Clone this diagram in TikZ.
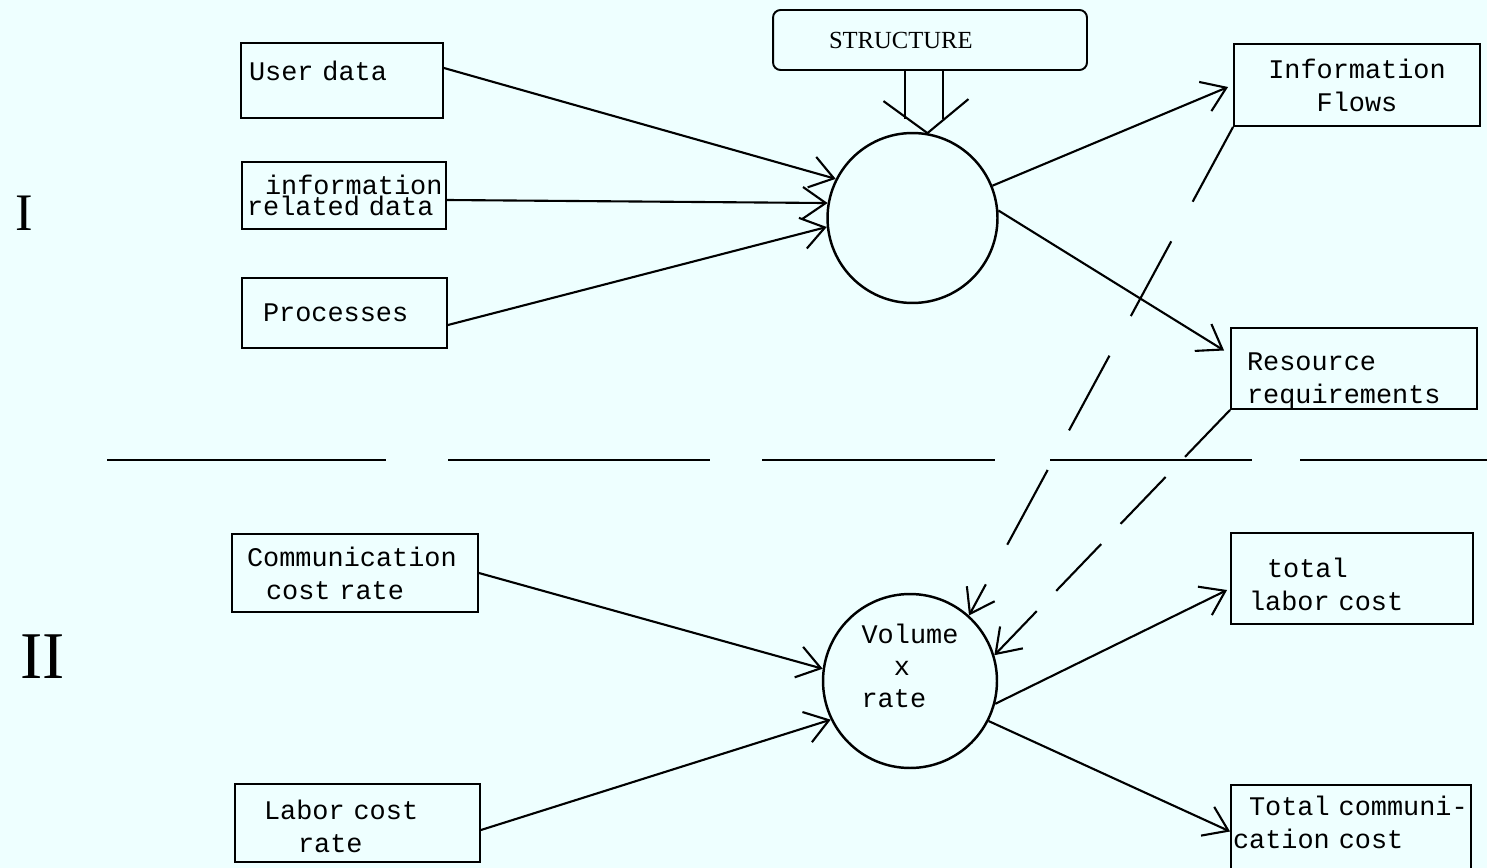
\documentclass[tikz,border=0pt]{standalone}
\usepackage{fontspec}
\setmonofont{Liberation Mono}
\newfontfamily\serifF{Liberation Serif}
\usetikzlibrary{arrows.meta,calc}
\definecolor{bg}{RGB}{238,255,255}
% shift a block of lines up (positive) or down (negative) without changing its reported size
\newcommand{\liftbox}[2]{\raisebox{#1}[\height][\depth]{\begin{tabular}{@{}l@{}}#2\end{tabular}}}
\begin{document}
\begin{tikzpicture}[x=0.02cm,y=-0.02cm,
  box/.style={draw, line width=1.1pt, rectangle, inner ysep=0pt, align=left,
    font=\ttfamily\fontsize{15.3}{18.7}\selectfont},
  proc/.style={draw, circle, line width=1.4pt, inner sep=0pt,
    font=\ttfamily\fontsize{15.3}{18.4}\selectfont},
  arr/.style={line width=1.2pt, -{Straight Barb[length=13pt,width=18pt]}},
  dashA/.style={line width=1.2pt, dash pattern=on 1.7cm off 0.9cm, -{Straight Barb[length=13pt,width=18pt]}},
  dashB/.style={line width=1.2pt, dash pattern=on 1.3cm off 0.56cm, -{Straight Barb[length=13pt,width=18pt]}},
  divider/.style={line width=1.2pt},
  roman/.style={font=\serifF\fontsize{30}{30}\selectfont, inner sep=0pt}
]
\useasboundingbox (0,0) rectangle (1487,868);
\fill[bg] (0,0) rectangle (1487,868);

% structure box
\node[draw, line width=1.1pt, rounded corners=0.15cm, minimum width=6.28cm, minimum height=1.2cm,
  text width=4.04cm, inner xsep=1.12cm, inner ysep=0pt, align=left,
  font=\serifF\fontsize{14}{16}\selectfont] (st) at (930,40) {STRUCTURE};

% circles
\node[proc, minimum size=3.4cm] (c1) at (912.5,218) {};
\node[proc, minimum size=3.48cm] (c2) at (910,681) {\liftbox{0.24cm}{Volume\\\phantom{Vo}x\\rate}};

% left boxes, part I
\node[box, minimum height=1.5cm, text width=3.72cm, inner xsep=0.16cm] (ud) at (342,80.5) {\liftbox{0.14cm}{User data}};
\node[box, minimum height=1.34cm, text width=3.88cm, inner xsep=0.1cm,
  font=\ttfamily\fontsize{15.3}{9.6}\selectfont] (ir) at (344,195.5)
  {\lineskiplimit=-100pt\lineskip=0pt\hspace*{0.36cm}information\\related data};
\node[box, minimum height=1.4cm, text width=3.26cm, inner xsep=0.42cm] (pr) at (344.5,313) {Processes};

% right boxes, part I
\node[box, minimum height=1.64cm, text width=4.52cm, inner xsep=0.2cm, align=center] (if) at (1357,85) {Information\\Flows};
\node[box, minimum height=1.62cm, text width=4.28cm, inner xsep=0.32cm] (rr) at (1354,368.5) {\liftbox{-0.24cm}{Resource\\requirements}};

% left boxes, part II
\node[box, minimum height=1.56cm, text width=4.32cm, inner xsep=0.3cm] (cc) at (355,573) {Communication\\\hspace*{0.38cm}cost rate};
\node[box, minimum height=1.56cm, text width=3.74cm, inner xsep=0.58cm] (lc) at (357.5,823) {\liftbox{-0.12cm}{Labor cost\\\hspace*{0.68cm}rate}};

% right boxes, part II
\node[box, minimum height=1.82cm, text width=4.12cm, inner xsep=0.36cm] (tl) at (1352,578.5) {\liftbox{-0.18cm}{\hspace*{0.36cm}total\\labor cost}};
\node[box, minimum height=1.86cm, text width=4.72cm, inner xsep=0.04cm] (tc) at (1351,831.5) {\liftbox{0.12cm}{\hspace*{0.32cm}Total communi-\\cation cost}};

% roman numerals
\node[roman] (r1) at (24,213) {I};
\node[roman, font=\serifF\fontsize{38}{38}\selectfont] (r2) at (43,657) {II};

% structure arrow
\draw[line width=1.2pt] ($(st.south)+(-25,0)$) -- ($(st.south)+(-25,48)$);
\draw[line width=1.2pt] ($(st.south)+(13,0)$) -- ($(st.south)+(13,48)$);
\draw[line width=1.2pt] ($(c1.80)+(-44,-32)$) -- (c1.80) -- ($(c1.80)+(41,-34)$);

% arrows part I
\draw[arr] ($(ud.east)+(0,-12.5)$) -- (c1.153);
\draw[arr] ($(ir.east)+(0,4.5)$) -- (c1.170);
\draw[arr] ($(pr.east)+(0,12)$) -- (c1.186);
\draw[arr] (c1.22) -- ($(if.west)+(-5,2)$);
\draw[arr] (c1.5) -- ($(rr.west)+(-6,-18)$);

% arrows part II
\draw[arr] (cc.east) -- (c2.172);
\draw[arr] ($(lc.east)+(0,7)$) -- (c2.206);
\draw[arr] (c2.345) -- ($(tl.west)+(-3,11.5)$);
\draw[arr] (c2.333) -- (tc.west);

% dashed feedback arrows
\draw[dashA] (if.south west) -- (c2.48);
\draw[dashB] (rr.south west) -- (c2.17);

% dividing line
\draw[divider] (107,460) -- (386,460) (448,460) -- (710,460) (762,460) -- (995,460)
  (1050,460) -- (1252,460) (1300,460) -- (1487,460);
\end{tikzpicture}
\end{document}
